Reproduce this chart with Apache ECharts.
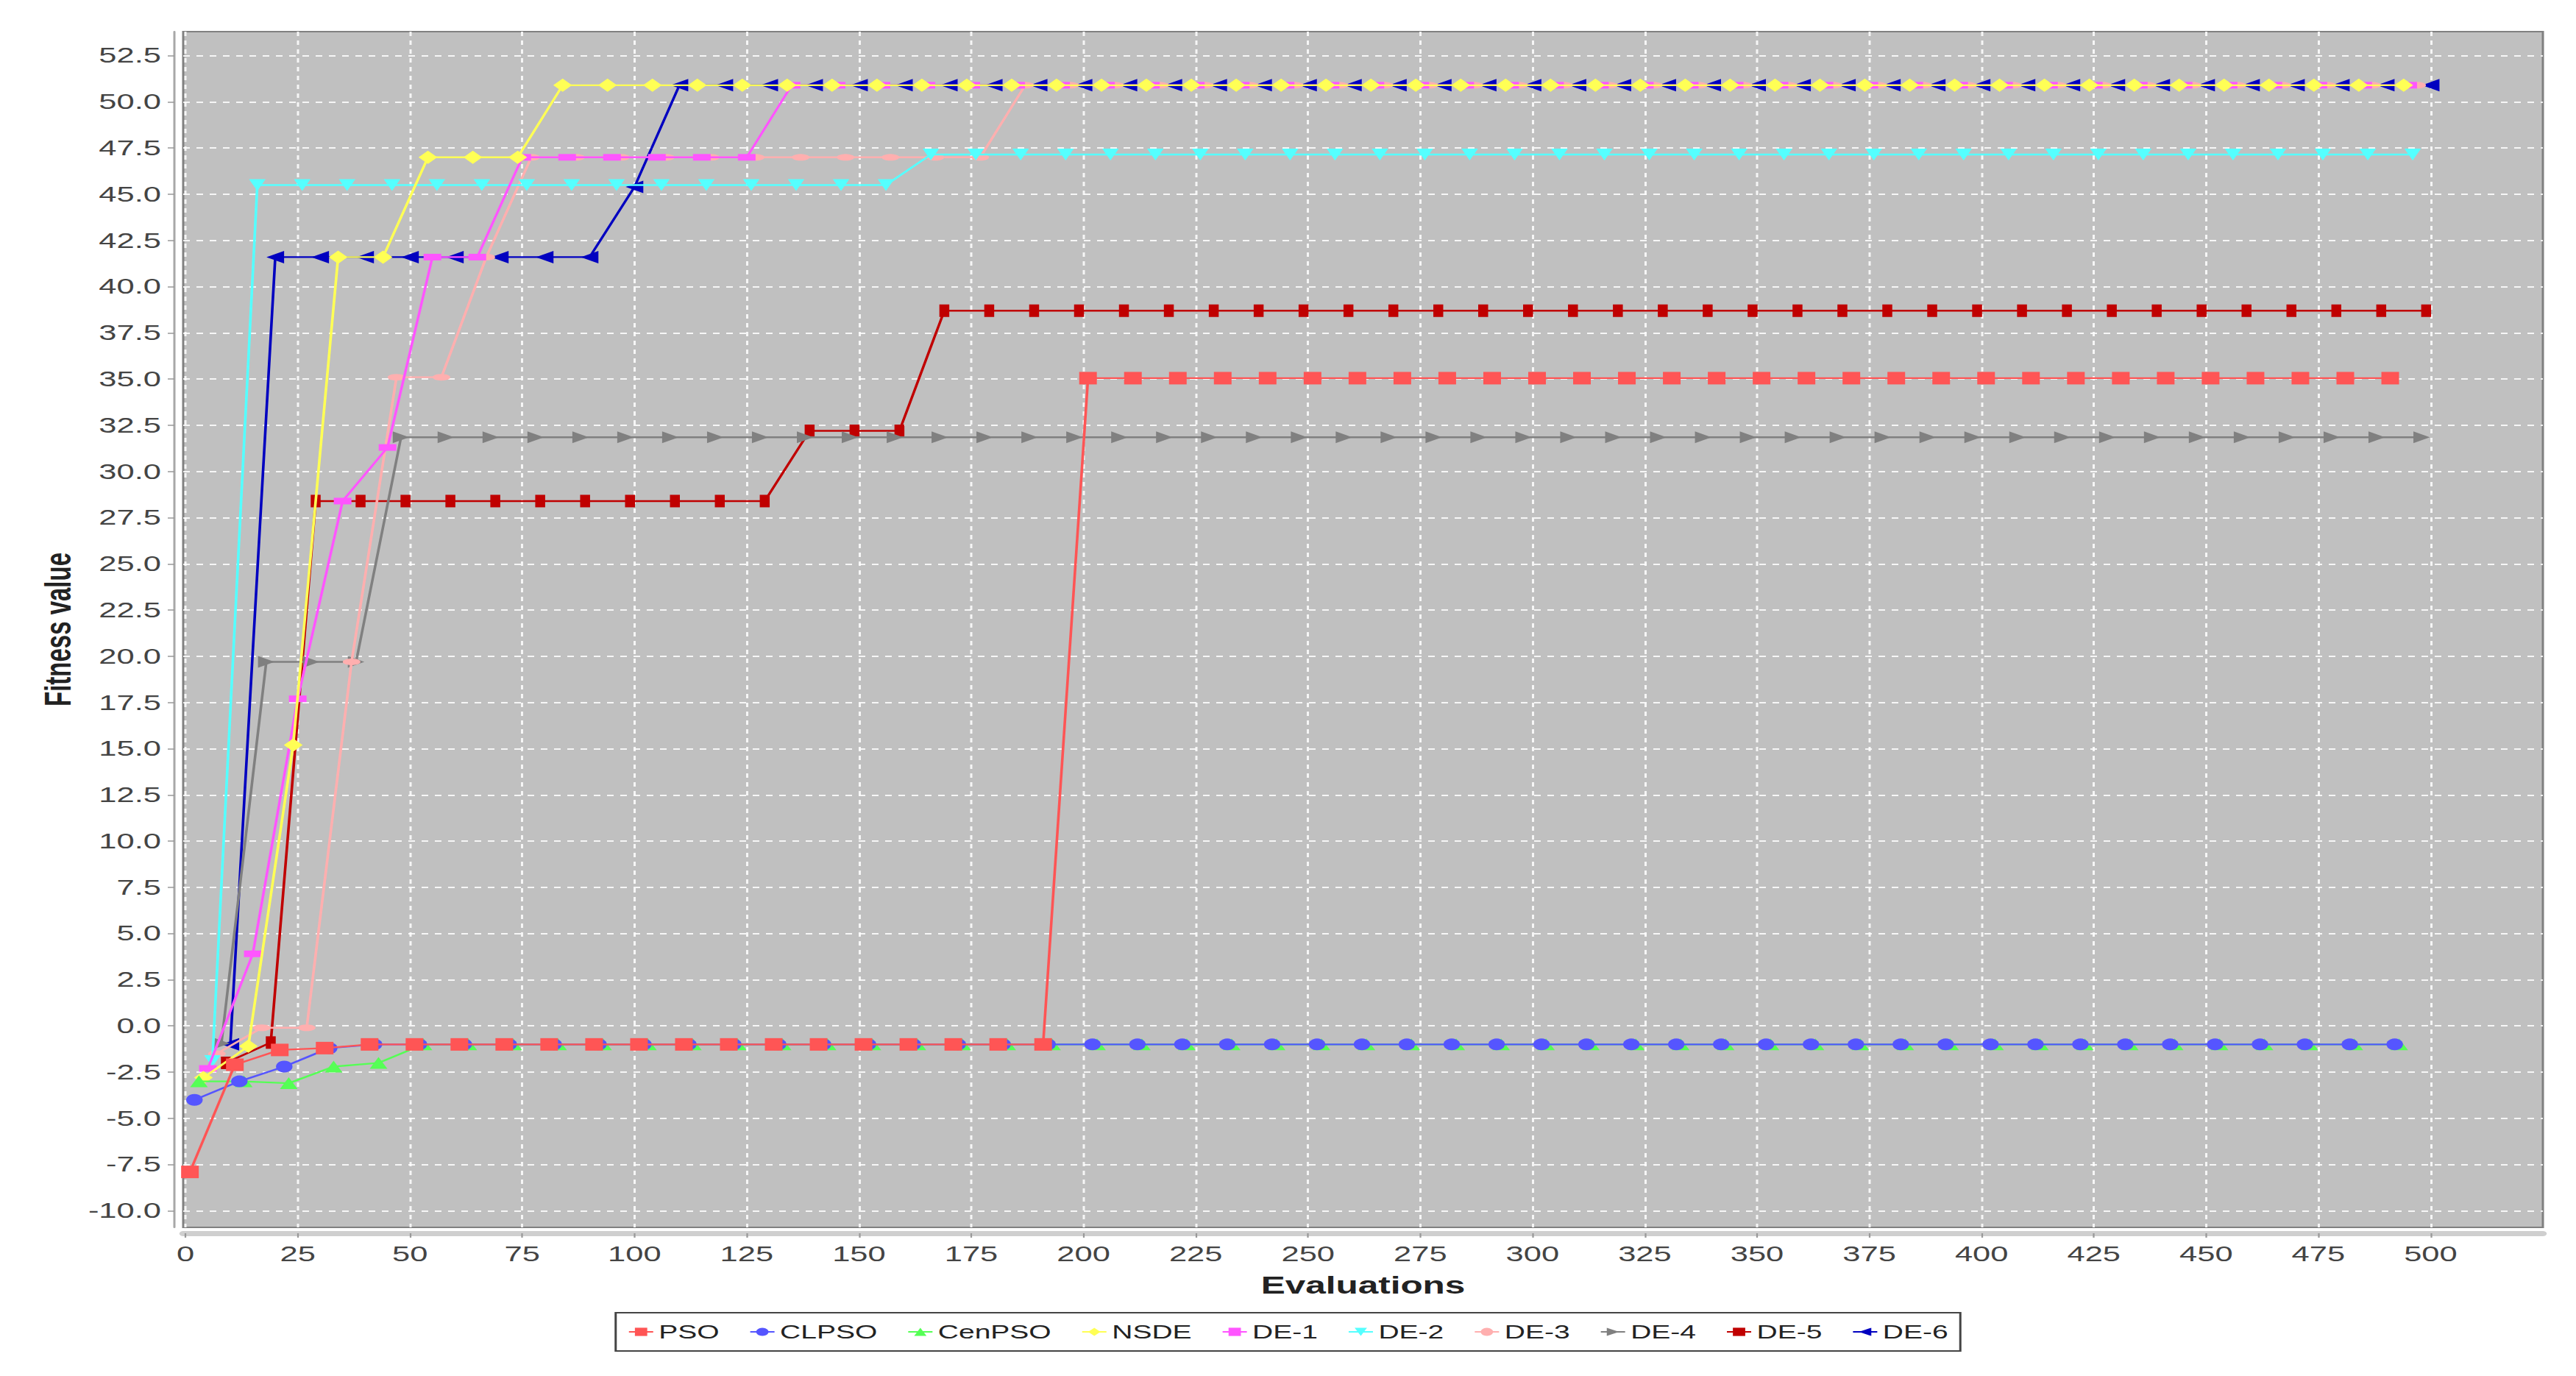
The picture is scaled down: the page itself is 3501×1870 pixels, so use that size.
<!DOCTYPE html>
<html>
<head>
<meta charset="utf-8">
<script src="https://cdn.jsdelivr.net/npm/echarts@6.0.0/dist/echarts.min.js"></script>
<style>
html, body { margin: 0; padding: 0; background: #fff; overflow: hidden; }
#wrap { width: 3501px; height: 1870px; overflow: hidden; background: #fff; }
#chart { width: 2334px; height: 1870px; transform: scaleX(1.5); transform-origin: 0 0; }
</style>
</head>
<body>
<div id="wrap"><div id="chart"></div></div>
<script>
// ---------------- DATA ----------------
const seriesNames = ['PSO', 'CLPSO', 'CenPSO', 'NSDE', 'DE-1', 'DE-2', 'DE-3', 'DE-4', 'DE-5', 'DE-6'];

// evaluation checkpoints (every 10 evaluations) and each algorithm's evaluation offset
const evalSteps = [
  0, 10, 20, 30, 40, 50, 60, 70, 80, 90,
  100, 110, 120, 130, 140, 150, 160, 170, 180, 190,
  200, 210, 220, 230, 240, 250, 260, 270, 280, 290,
  300, 310, 320, 330, 340, 350, 360, 370, 380, 390,
  400, 410, 420, 430, 440, 450, 460, 470, 480, 490
];
const evalOffsets = [1, 2, 3, 4, 5, 6, 7, 8, 9, 10];

const psoValues = [
  -7.9, -2.1, -1.3, -1.2, -1.0, -1.0, -1.0, -1.0, -1.0, -1.0,
  -1.0, -1.0, -1.0, -1.0, -1.0, -1.0, -1.0, -1.0, -1.0, -1.0,
  35.05, 35.05, 35.05, 35.05, 35.05, 35.05, 35.05, 35.05, 35.05, 35.05,
  35.05, 35.05, 35.05, 35.05, 35.05, 35.05, 35.05, 35.05, 35.05, 35.05,
  35.05, 35.05, 35.05, 35.05, 35.05, 35.05, 35.05, 35.05, 35.05, 35.05
];
const clpsoValues = [
  -4.0, -3.0, -2.2, -1.2, -1.0, -1.0, -1.0, -1.0, -1.0, -1.0,
  -1.0, -1.0, -1.0, -1.0, -1.0, -1.0, -1.0, -1.0, -1.0, -1.0,
  -1.0, -1.0, -1.0, -1.0, -1.0, -1.0, -1.0, -1.0, -1.0, -1.0,
  -1.0, -1.0, -1.0, -1.0, -1.0, -1.0, -1.0, -1.0, -1.0, -1.0,
  -1.0, -1.0, -1.0, -1.0, -1.0, -1.0, -1.0, -1.0, -1.0, -1.0
];
const cenpsoValues = [
  -3.0, -3.0, -3.1, -2.2, -2.0, -1.0, -1.0, -1.0, -1.0, -1.0,
  -1.0, -1.0, -1.0, -1.0, -1.0, -1.0, -1.0, -1.0, -1.0, -1.0,
  -1.0, -1.0, -1.0, -1.0, -1.0, -1.0, -1.0, -1.0, -1.0, -1.0,
  -1.0, -1.0, -1.0, -1.0, -1.0, -1.0, -1.0, -1.0, -1.0, -1.0,
  -1.0, -1.0, -1.0, -1.0, -1.0, -1.0, -1.0, -1.0, -1.0, -1.0
];
const nsdeValues = [
  -2.8, -1.1, 15.2, 41.6, 41.6, 47.0, 47.0, 47.0, 50.9, 50.9,
  50.9, 50.9, 50.9, 50.9, 50.9, 50.9, 50.9, 50.9, 50.9, 50.9,
  50.9, 50.9, 50.9, 50.9, 50.9, 50.9, 50.9, 50.9, 50.9, 50.9,
  50.9, 50.9, 50.9, 50.9, 50.9, 50.9, 50.9, 50.9, 50.9, 50.9,
  50.9, 50.9, 50.9, 50.9, 50.9, 50.9, 50.9, 50.9, 50.9, 50.9
];
const de1Values = [
  -2.3, 3.9, 17.7, 28.4, 31.3, 41.6, 41.6, 47.0, 47.0, 47.0,
  47.0, 47.0, 47.0, 50.9, 50.9, 50.9, 50.9, 50.9, 50.9, 50.9,
  50.9, 50.9, 50.9, 50.9, 50.9, 50.9, 50.9, 50.9, 50.9, 50.9,
  50.9, 50.9, 50.9, 50.9, 50.9, 50.9, 50.9, 50.9, 50.9, 50.9,
  50.9, 50.9, 50.9, 50.9, 50.9, 50.9, 50.9, 50.9, 50.9, 50.9
];
const de2Values = [
  -1.9, 45.5, 45.5, 45.5, 45.5, 45.5, 45.5, 45.5, 45.5, 45.5,
  45.5, 45.5, 45.5, 45.5, 45.5, 45.5, 47.15, 47.15, 47.15, 47.15,
  47.15, 47.15, 47.15, 47.15, 47.15, 47.15, 47.15, 47.15, 47.15, 47.15,
  47.15, 47.15, 47.15, 47.15, 47.15, 47.15, 47.15, 47.15, 47.15, 47.15,
  47.15, 47.15, 47.15, 47.15, 47.15, 47.15, 47.15, 47.15, 47.15, 47.15
];
const de3Values = [
  -1.5, -0.1, -0.1, 19.7, 35.1, 35.1, 41.6, 47.0, 47.0, 47.0,
  47.0, 47.0, 47.0, 47.0, 47.0, 47.0, 47.0, 47.0, 50.9, 50.9,
  50.9, 50.9, 50.9, 50.9, 50.9, 50.9, 50.9, 50.9, 50.9, 50.9,
  50.9, 50.9, 50.9, 50.9, 50.9, 50.9, 50.9, 50.9, 50.9, 50.9,
  50.9, 50.9, 50.9, 50.9, 50.9, 50.9, 50.9, 50.9, 50.9, 50.9
];
const de4Values = [
  -0.95, 19.7, 19.7, 19.7, 31.85, 31.85, 31.85, 31.85, 31.85, 31.85,
  31.85, 31.85, 31.85, 31.85, 31.85, 31.85, 31.85, 31.85, 31.85, 31.85,
  31.85, 31.85, 31.85, 31.85, 31.85, 31.85, 31.85, 31.85, 31.85, 31.85,
  31.85, 31.85, 31.85, 31.85, 31.85, 31.85, 31.85, 31.85, 31.85, 31.85,
  31.85, 31.85, 31.85, 31.85, 31.85, 31.85, 31.85, 31.85, 31.85, 31.85
];
const de5Values = [
  -2.0, -0.9, 28.4, 28.4, 28.4, 28.4, 28.4, 28.4, 28.4, 28.4,
  28.4, 28.4, 28.4, 32.2, 32.2, 32.2, 38.7, 38.7, 38.7, 38.7,
  38.7, 38.7, 38.7, 38.7, 38.7, 38.7, 38.7, 38.7, 38.7, 38.7,
  38.7, 38.7, 38.7, 38.7, 38.7, 38.7, 38.7, 38.7, 38.7, 38.7,
  38.7, 38.7, 38.7, 38.7, 38.7, 38.7, 38.7, 38.7, 38.7, 38.7
];
const de6Values = [
  -1.0, 41.6, 41.6, 41.6, 41.6, 41.6, 41.6, 41.6, 41.6, 45.4,
  50.9, 50.9, 50.9, 50.9, 50.9, 50.9, 50.9, 50.9, 50.9, 50.9,
  50.9, 50.9, 50.9, 50.9, 50.9, 50.9, 50.9, 50.9, 50.9, 50.9,
  50.9, 50.9, 50.9, 50.9, 50.9, 50.9, 50.9, 50.9, 50.9, 50.9,
  50.9, 50.9, 50.9, 50.9, 50.9, 50.9, 50.9, 50.9, 50.9, 50.9
];

const xTickValues = [0, 25, 50, 75, 100, 125, 150, 175, 200, 225, 250, 275, 300, 325, 350, 375, 400, 425, 450, 475, 500];
const yTickValues = [-10, -7.5, -5, -2.5, 0, 2.5, 5, 7.5, 10, 12.5, 15, 17.5, 20, 22.5, 25, 27.5, 30, 32.5, 35, 37.5, 40, 42.5, 45, 47.5, 50, 52.5];

// ---------------- STYLE ----------------
const seriesValues = [psoValues, clpsoValues, cenpsoValues, nsdeValues, de1Values, de2Values, de3Values, de4Values, de5Values, de6Values];
const seriesColors = ['#FF5555', '#5555FF', '#55FF55', '#FFFF55', '#FF55FF', '#55FFFF', '#FFAFAF', '#808080', '#C00000', '#0000C0'];
const seriesSymbols = [
  'rect', 'circle', 'triangle', 'diamond', 'rect',
  'path://M0,0L10,0L5,10Z', 'circle', 'path://M0,0L10,5L0,10Z', 'rect', 'path://M10,0L0,5L10,10Z'
];
const seriesSymbolSizes = [[16, 17], [15, 16], [16, 16], [17, 18], [16, 9], [15, 16], [16, 9], [15, 16], [9, 17], [16, 17]];

const FONT = '"Liberation Sans", Arial, sans-serif';

const chart = echarts.init(document.getElementById('chart'), null, { renderer: 'svg' });

const series = seriesNames.map((name, i) => ({
  type: 'line',
  name: name,
  data: evalSteps.map((e, k) => [e + evalOffsets[i], seriesValues[i][k]]),
  symbol: seriesSymbols[i],
  symbolSize: seriesSymbolSizes[i],
  showSymbol: true,
  z: 30 - i,
  itemStyle: { color: seriesColors[i], borderWidth: 0 },
  lineStyle: { color: seriesColors[i], width: 2.4 },
  emphasis: { disabled: true },
  animation: false
}));

chart.setOption({
  backgroundColor: '#ffffff',
  animation: false,
  grid: {
    left: 166, right: 30, top: 43, bottom: 202,
    show: true,
    backgroundColor: '#C0C0C0',
    borderColor: '#808080',
    borderWidth: 2,
    containLabel: false,
    outerBoundsMode: 'none'
  },
  legend: {
    data: seriesNames,
    left: 'center',
    top: 1784,
    orient: 'horizontal',
    itemWidth: 22,
    itemHeight: 14,
    itemGap: 27,
    padding: [13, 11, 13, 11],
    backgroundColor: '#ffffff',
    borderColor: '#444444',
    borderWidth: 2,
    textStyle: { fontFamily: FONT, fontSize: 26, color: '#222' }
  },
  xAxis: {
    type: 'value',
    min: -0.5,
    max: 525,
    offset: 8,
    name: 'Evaluations',
    nameLocation: 'middle',
    nameGap: 54,
    nameTextStyle: { fontFamily: FONT, fontWeight: 'bold', fontSize: 33, color: '#222' },
    axisLine: { show: true, onZero: false, lineStyle: { color: '#cfcfcf', width: 7 } },
    axisTick: { show: true, customValues: xTickValues, length: 6, lineStyle: { color: '#999', width: 1.5 } },
    axisLabel: { customValues: xTickValues, margin: 14, fontSize: 29, color: '#444', fontFamily: FONT },
    splitLine: { show: true, lineStyle: { color: 'rgba(255,255,255,0.85)', width: 2, type: [6, 6] } }
  },
  yAxis: {
    type: 'value',
    min: -10.9,
    max: 53.8,
    offset: 8,
    name: 'Fitness value',
    nameLocation: 'middle',
    nameGap: 89,
    nameRotate: 90,
    nameTextStyle: { fontFamily: FONT, fontWeight: 'bold', fontSize: 33, color: '#222' },
    axisLine: { show: true, onZero: false, lineStyle: { color: '#a8a8a8', width: 2 } },
    axisTick: { show: true, customValues: yTickValues, length: 6, lineStyle: { color: '#999', width: 1.5 } },
    axisLabel: {
      customValues: yTickValues, margin: 12, fontSize: 29, color: '#444', fontFamily: FONT,
      formatter: v => Number(v).toFixed(1)
    },
    splitLine: { show: true, lineStyle: { color: 'rgba(255,255,255,0.85)', width: 2, type: [6, 6] } }
  },
  series: series
});
</script>
</body>
</html>
